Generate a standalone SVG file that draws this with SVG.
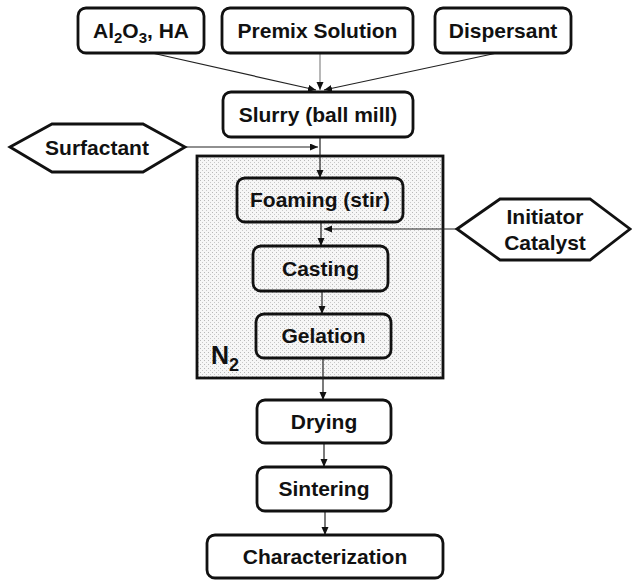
<svg xmlns="http://www.w3.org/2000/svg" width="632" height="580" viewBox="0 0 632 580">
<style>
.box{fill:#fff;stroke:#111;stroke-width:2.8}
.inbox{fill:none;stroke:#111;stroke-width:2.8}
.hex{fill:#fff;stroke:#111;stroke-width:2.8;stroke-linejoin:miter}
.lbl{font-family:"Liberation Sans",Arial,sans-serif;font-weight:bold;font-size:21px;fill:#111;text-anchor:middle}
.con{fill:none;stroke:#222;stroke-width:1.2;marker-end:url(#ah)}
.con-light{fill:none;stroke:#888;stroke-width:1.2;marker-end:url(#ah)}
</style>
<defs>
<pattern id="stip" width="4" height="4" patternUnits="userSpaceOnUse">
<rect width="4" height="4" fill="#f6f6f6"/>
<rect x="0" y="0" width="1" height="1" fill="#b8b8b8"/>
<rect x="2" y="2" width="1" height="1" fill="#c8c8c8"/>
</pattern>
<marker id="ah" markerWidth="9" markerHeight="8" refX="8" refY="3.5" orient="auto" markerUnits="userSpaceOnUse">
<path d="M0,0 L8,3.5 L0,7 z" fill="#111"/>
</marker>
</defs>
<g id="n2-chamber">
<rect x="197" y="156" width="246" height="222" fill="url(#stip)" stroke="#111" stroke-width="2.8"/>
<text x="211" y="364" font-family="Liberation Sans, Arial, sans-serif" font-weight="bold" font-size="25" fill="#111">N<tspan font-size="18" dy="7">2</tspan></text>
</g>
<g id="connectors">
<path class="con" d="M152,53 L316,90"/>
<path class="con-light" d="M320,53 L320,90"/>
<path class="con" d="M497,53 L324,90"/>
<path class="con" d="M185,147 L318,147"/>
<path class="con" d="M320,137 L320,178"/>
<path class="con" d="M457,229 L324,229"/>
<path class="con" d="M321,222 L321,246"/>
<path class="con" d="M322,291 L322,314"/>
<path class="con" d="M323,358 L323,400"/>
<path class="con" d="M324,443 L324,467"/>
<path class="con" d="M325,511 L325,535"/>
</g>
<g id="al2o3-ha">
<rect class="box" x="78" y="8" width="126" height="45" rx="8"/>
<text class="lbl" x="141" y="38">Al<tspan font-size="15" dy="5">2</tspan><tspan dy="-5">O</tspan><tspan font-size="15" dy="5">3</tspan><tspan dy="-5">, HA</tspan></text>
</g>
<g id="premix-solution">
<rect class="box" x="222" y="8" width="191" height="45" rx="8"/>
<text class="lbl" x="317.5" y="38">Premix Solution</text>
</g>
<g id="dispersant">
<rect class="box" x="435" y="8" width="136" height="45" rx="8"/>
<text class="lbl" x="503" y="38">Dispersant</text>
</g>
<g id="slurry">
<rect class="box" x="223" y="92" width="190" height="45" rx="8"/>
<text class="lbl" x="318" y="122">Slurry (ball mill)</text>
</g>
<g id="surfactant">
<polygon class="hex" points="10,147 52,124 143,124 185,147 143,172 52,172"/>
<text class="lbl" x="97" y="155">Surfactant</text>
</g>
<g id="foaming">
<rect class="inbox" x="237" y="178" width="166" height="44" rx="8"/>
<text class="lbl" x="320" y="207">Foaming (stir)</text>
</g>
<g id="initiator-catalyst">
<polygon class="hex" points="457,229 500,199 590,199 630,229 590,260 500,260"/>
<text class="lbl" x="545" y="224">Initiator</text>
<text class="lbl" x="545" y="250">Catalyst</text>
</g>
<g id="casting">
<rect class="inbox" x="253" y="246" width="135" height="45" rx="8"/>
<text class="lbl" x="320.5" y="276">Casting</text>
</g>
<g id="gelation">
<rect class="inbox" x="256" y="314" width="135" height="44" rx="8"/>
<text class="lbl" x="323.5" y="343">Gelation</text>
</g>
<g id="drying">
<rect class="box" x="257" y="400" width="134" height="43" rx="8"/>
<text class="lbl" x="324" y="429">Drying</text>
</g>
<g id="sintering">
<rect class="box" x="257" y="467" width="134" height="44" rx="8"/>
<text class="lbl" x="324" y="496">Sintering</text>
</g>
<g id="characterization">
<rect class="box" x="207" y="535" width="236" height="43" rx="8"/>
<text class="lbl" x="325" y="564">Characterization</text>
</g>
</svg>
